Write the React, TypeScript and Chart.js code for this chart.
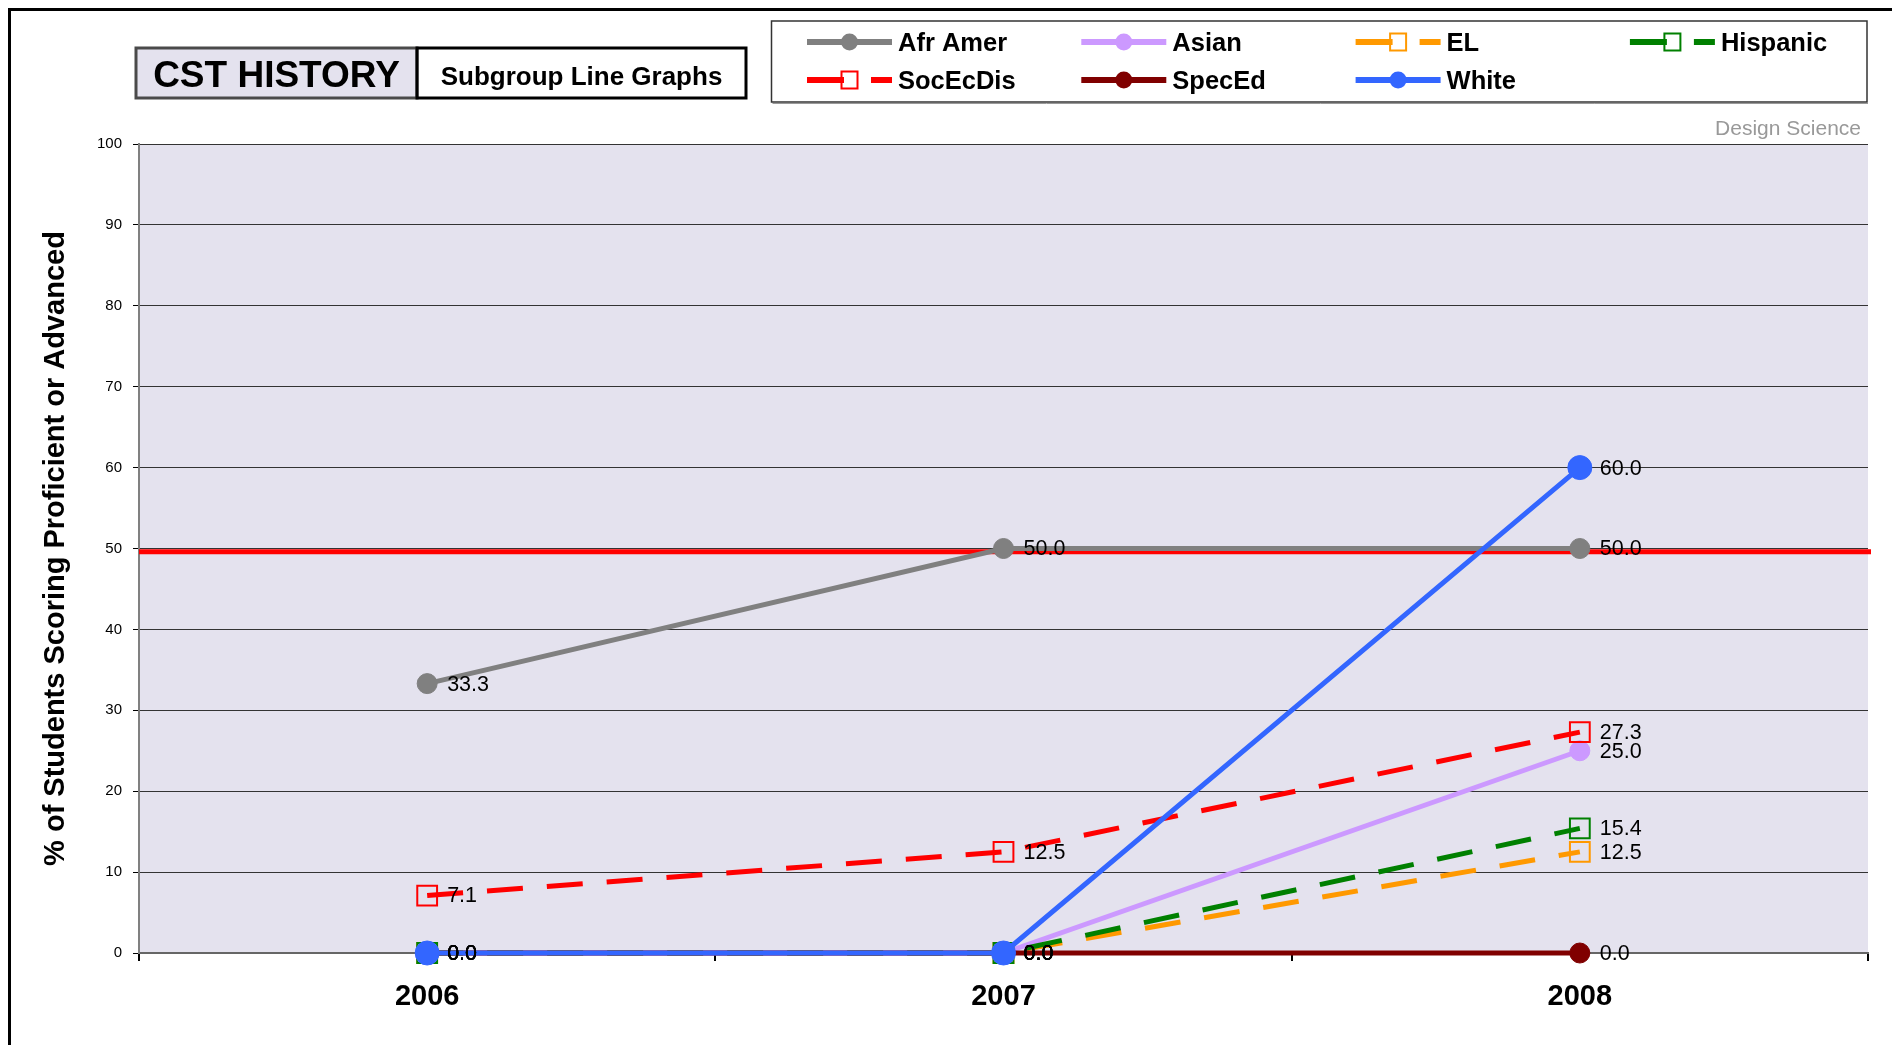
import React, { useEffect, useRef } from 'react';
import { Chart, registerables } from 'chart.js';

Chart.register(...registerables);

// ---------- data ----------
const YEARS = ['2006', '2007', '2008'];
const SERIES_NAMES = ['Afr Amer', 'Asian', 'EL', 'Hispanic', 'SocEcDis', 'SpecEd', 'White'];
const AFR_AMER = [33.3, 50.0, 50.0];
const ASIAN = [0.0, 0.0, 25.0];
const EL = [0.0, 0.0, 12.5];
const HISPANIC = [0.0, 0.0, 15.4];
const SOC_EC_DIS = [7.1, 12.5, 27.3];
const SPEC_ED = [0.0, 0.0, 0.0];
const WHITE = [0.0, 0.0, 60.0];
const TARGET = 49.6;
const Y_MIN = 0;
const Y_MAX = 100;
const Y_STEP = 10;

const TITLE = 'CST HISTORY';
const SUBTITLE = 'Subgroup Line Graphs';
const Y_TITLE = '% of Students Scoring Proficient or Advanced';
const CREDIT = 'Design Science';

const SERIES_VALUES = [AFR_AMER, ASIAN, EL, HISPANIC, SOC_EC_DIS, SPEC_ED, WHITE];

// ---------- styles ----------
const FONT = '"Liberation Sans", Arial, Helvetica, sans-serif';
const PLOT_BG = '#E4E2EE';
const DASH = [36, 24];
const STYLES = [
  { color: '#808080', marker: 'circle', dashed: false, r: 10 },
  { color: '#CC99FF', marker: 'circle', dashed: false, r: 10 },
  { color: '#FF9900', marker: 'rect', dashed: true, r: 14 },
  { color: '#008000', marker: 'rect', dashed: true, r: 14 },
  { color: '#FF0000', marker: 'rect', dashed: true, r: 14 },
  { color: '#800000', marker: 'circle', dashed: false, r: 10 },
  { color: '#3366FF', marker: 'circle', dashed: false, r: 12 },
];

const W = 1881;
const H = 1034;

const decorPlugin = {
  id: 'decor',
  beforeDraw(chart: any) {
    const { ctx, chartArea } = chart;
    ctx.save();
    ctx.fillStyle = '#FFFFFF';
    ctx.fillRect(0, 0, chart.width, chart.height);
    ctx.fillStyle = PLOT_BG;
    ctx.fillRect(chartArea.left, chartArea.top, chartArea.right - chartArea.left, chartArea.bottom - chartArea.top);
    ctx.restore();
  },
  beforeDatasetsDraw(chart: any) {
    const { ctx, chartArea, scales } = chart;
    const y = scales.y.getPixelForValue(TARGET);
    ctx.save();
    ctx.strokeStyle = '#FF0000';
    ctx.lineWidth = 5;
    ctx.beginPath();
    ctx.moveTo(chartArea.left, y);
    ctx.lineTo(chartArea.right + 3, y);
    ctx.stroke();
    ctx.restore();
  },
  afterDatasetsDraw(chart: any) {
    const { ctx } = chart;
    ctx.save();
    ctx.fillStyle = '#000';
    ctx.font = `21.5px ${FONT}`;
    ctx.textAlign = 'left';
    ctx.textBaseline = 'middle';
    chart.data.datasets.forEach((ds: any, i: number) => {
      const meta = chart.getDatasetMeta(i);
      meta.data.forEach((pt: any, j: number) => {
        const v = ds.data[j];
        if (v === null || v === undefined) return;
        ctx.fillText(Number(v).toFixed(1), pt.x + 20, pt.y + 1);
      });
    });
    ctx.restore();
  },
  afterDraw(chart: any) {
    const { ctx } = chart;
    ctx.save();
    // title boxes
    const bx = 125, by = 37, bh = 50, b1w = 281, b2w = 329;
    ctx.fillStyle = PLOT_BG;
    ctx.fillRect(bx, by, b1w, bh);
    ctx.fillStyle = '#FFFFFF';
    ctx.fillRect(bx + b1w, by, b2w, bh);
    ctx.lineWidth = 3;
    ctx.strokeStyle = '#4A4A4A';
    ctx.strokeRect(bx, by, b1w, bh);
    ctx.strokeStyle = '#000';
    ctx.strokeRect(bx + b1w, by, b2w, bh);
    ctx.fillStyle = '#000';
    ctx.textAlign = 'center';
    ctx.textBaseline = 'alphabetic';
    ctx.font = `bold 37px ${FONT}`;
    ctx.fillText(TITLE, bx + b1w / 2, 76);
    ctx.font = `bold 26px ${FONT}`;
    ctx.fillText(SUBTITLE, bx + b1w + b2w / 2, 74);

    // legend box
    const lx = 760.5, ly = 10, lw = 1095.5, lh = 81;
    ctx.fillStyle = '#FFFFFF';
    ctx.fillRect(lx, ly, lw, lh);
    ctx.lineWidth = 1.5;
    ctx.strokeStyle = '#333';
    ctx.strokeRect(lx, ly, lw, lh);
    ctx.strokeStyle = '#999';
    ctx.lineWidth = 1;
    ctx.beginPath();
    ctx.moveTo(lx + 1, ly + lh + 1.5);
    ctx.lineTo(lx + lw + 1, ly + lh + 1.5);
    ctx.stroke();

    SERIES_NAMES.forEach((name, i) => {
      const st = STYLES[i];
      const col = i % 4;
      const row = Math.floor(i / 4);
      const x0 = 796 + col * 274.3;
      const y = 31 + row * 38;
      const len = 85;
      ctx.save();
      ctx.strokeStyle = st.color;
      ctx.lineWidth = 6;
      ctx.setLineDash(st.dashed ? [37, 27] : []);
      ctx.beginPath();
      ctx.moveTo(x0, y);
      ctx.lineTo(x0 + len, y);
      ctx.stroke();
      ctx.restore();
      const cx = x0 + len / 2;
      if (st.marker === 'circle') {
        ctx.fillStyle = st.color;
        ctx.beginPath();
        ctx.arc(cx, y, 8.5, 0, Math.PI * 2);
        ctx.fill();
      } else {
        ctx.strokeStyle = st.color;
        ctx.lineWidth = 2;
        ctx.strokeRect(cx - 8, y - 8.5, 16, 17);
      }
      ctx.fillStyle = '#000';
      ctx.textAlign = 'left';
      ctx.textBaseline = 'alphabetic';
      ctx.font = `bold 25.5px ${FONT}`;
      ctx.fillText(name, x0 + 91, y + 9);
    });

    // credit
    ctx.fillStyle = '#999999';
    ctx.font = `21px ${FONT}`;
    ctx.textAlign = 'right';
    ctx.textBaseline = 'middle';
    ctx.fillText(CREDIT, 1850, 118);
    ctx.restore();
  },
};

export default function App() {
  const ref = useRef<HTMLCanvasElement | null>(null);

  useEffect(() => {
    const canvas = ref.current;
    if (!canvas) return;
    Chart.defaults.font.family = FONT;
    const n = SERIES_NAMES.length;
    const datasets = SERIES_NAMES.map((name, i) => {
      const st = STYLES[i];
      return {
        label: name,
        data: SERIES_VALUES[i],
        borderColor: st.color,
        backgroundColor: st.color,
        borderWidth: 5,
        borderDash: st.dashed ? DASH : [],
        pointStyle: st.marker,
        pointRadius: st.r,
        pointHoverRadius: st.r,
        pointBackgroundColor: st.marker === 'rect' ? 'rgba(0,0,0,0)' : st.color,
        pointBorderColor: st.color,
        pointBorderWidth: st.marker === 'rect' ? 2 : 1,
        tension: 0,
        fill: false,
        clip: false,
        order: n - 1 - i,
      };
    });

    const chart = new Chart(canvas, {
      type: 'line',
      data: { labels: YEARS, datasets },
      options: {
        responsive: false,
        animation: false,
        events: [],
        layout: { padding: { top: 133, right: 24, left: 0, bottom: 0 } },
        plugins: {
          legend: { display: false },
          tooltip: { enabled: false },
          title: { display: false },
        },
        scales: {
          x: {
            type: 'category',
            offset: true,
            grid: {
              display: true,
              drawOnChartArea: false,
              drawTicks: true,
              tickLength: 8,
              offset: true,
              color: '#000',
              lineWidth: 2,
            },
            border: { display: true, color: '#666', width: 2 },
            ticks: {
              color: '#000',
              padding: 19,
              font: { size: 29, weight: 'bold', family: FONT },
              maxRotation: 0,
            },
            afterFit(scale: any) {
              scale.height = 92;
            },
          },
          y: {
            min: Y_MIN,
            max: Y_MAX,
            grid: {
              color: '#333',
              lineWidth: 1,
              drawTicks: true,
              tickLength: 6,
              tickColor: '#000',
            },
            border: { display: true, color: '#808080', width: 2 },
            ticks: {
              stepSize: Y_STEP,
              color: '#000',
              padding: 11,
              font: { size: 15, family: FONT },
              callback: (v: any) => String(v),
            },
            title: {
              display: true,
              text: Y_TITLE,
              color: '#000',
              font: { size: 29, weight: 'bold', family: FONT, lineHeight: 1.2 },
              padding: { top: 28, bottom: 0 },
            },
            afterFit(scale: any) {
              scale.width = 128;
            },
          },
        },
      },
      plugins: [decorPlugin],
    } as any);

    return () => chart.destroy();
  }, []);

  return (
    <div
      style={{
        position: 'absolute',
        left: 8,
        top: 8,
        width: W,
        height: H,
        borderTop: '3px solid #000',
        borderLeft: '3px solid #000',
        background: '#fff',
      }}
    >
      <canvas ref={ref} width={W} height={H} style={{ display: 'block', width: W, height: H }} />
    </div>
  );
}
